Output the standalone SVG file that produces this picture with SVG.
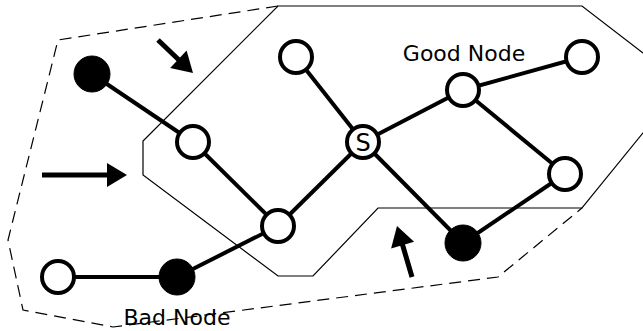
<svg xmlns="http://www.w3.org/2000/svg" width="643" height="331" viewBox="0 0 643 331">
<style>
.edge{stroke:#000;stroke-width:4;fill:none}
.open{fill:#fff;stroke:#000;stroke-width:4}
.bad{fill:#000;stroke:#000;stroke-width:1}
.lbl{font-family:"DejaVu Sans",sans-serif;font-size:22px;fill:#000}
.shaft{stroke:#000;stroke-width:5;fill:none}
.head{fill:#000;stroke:none}
</style>
<g id="regions">
<polygon points="278,6 582,6 660,66 660,112 582,208 378,208 313,276 278,276 143,175 143,141" fill="none" stroke="#000" stroke-width="1.2"/>
<polyline points="278,6 58,40 8,240 23,310 113,327 498,277 582,208" fill="none" stroke="#000" stroke-width="1.2" stroke-dasharray="12 7"/>
</g>
<g id="arrows">
<line class="shaft" x1="158" y1="40" x2="180" y2="61"/>
<polygon class="head" points="193,73 170.2,68 186.6,50.6"/>
<line class="shaft" x1="42" y1="175" x2="109" y2="175"/>
<polygon class="head" points="127,175 107,163 107,187"/>
<line class="shaft" x1="412" y1="277" x2="402" y2="243"/>
<polygon class="head" points="397,226 414.1,241.8 391.1,248.6"/>
</g>
<g id="connectors">
<line class="edge" x1="92" y1="74" x2="193" y2="142"/>
<line class="edge" x1="193" y1="142" x2="278" y2="226"/>
<line class="edge" x1="278" y1="226" x2="363" y2="142"/>
<line class="edge" x1="363" y1="142" x2="296" y2="57"/>
<line class="edge" x1="363" y1="142" x2="463" y2="90"/>
<line class="edge" x1="363" y1="142" x2="463" y2="243"/>
<line class="edge" x1="463" y1="90" x2="582" y2="57"/>
<line class="edge" x1="463" y1="90" x2="565" y2="174"/>
<line class="edge" x1="565" y1="174" x2="463" y2="243"/>
<line class="edge" x1="278" y1="226" x2="177" y2="277"/>
<line class="edge" x1="177" y1="277" x2="58" y2="277"/>
</g>
<g id="n_bad1"><circle class="bad" cx="92" cy="74" r="18"/></g>
<g id="n_a"><circle class="open" cx="193" cy="142" r="16"/></g>
<g id="n_top"><circle class="open" cx="296" cy="57" r="16"/></g>
<g id="n_s"><circle class="open" cx="363" cy="142" r="16"/><text class="lbl" x="363" y="151" text-anchor="middle" style="font-size:24px">S</text></g>
<g id="n_good"><circle class="open" cx="463" cy="90" r="16"/><text class="lbl" x="464" y="61" text-anchor="middle">Good Node</text></g>
<g id="n_tr"><circle class="open" cx="582" cy="57" r="16"/></g>
<g id="n_right"><circle class="open" cx="565" cy="174" r="16"/></g>
<g id="n_bad3"><circle class="bad" cx="463" cy="243" r="18"/></g>
<g id="n_b"><circle class="open" cx="278" cy="226" r="16"/></g>
<g id="n_left"><circle class="open" cx="58" cy="277" r="16"/></g>
<g id="n_bad2"><circle class="bad" cx="177" cy="277" r="18"/><text class="lbl" x="177" y="325" text-anchor="middle">Bad Node</text></g>
</svg>
